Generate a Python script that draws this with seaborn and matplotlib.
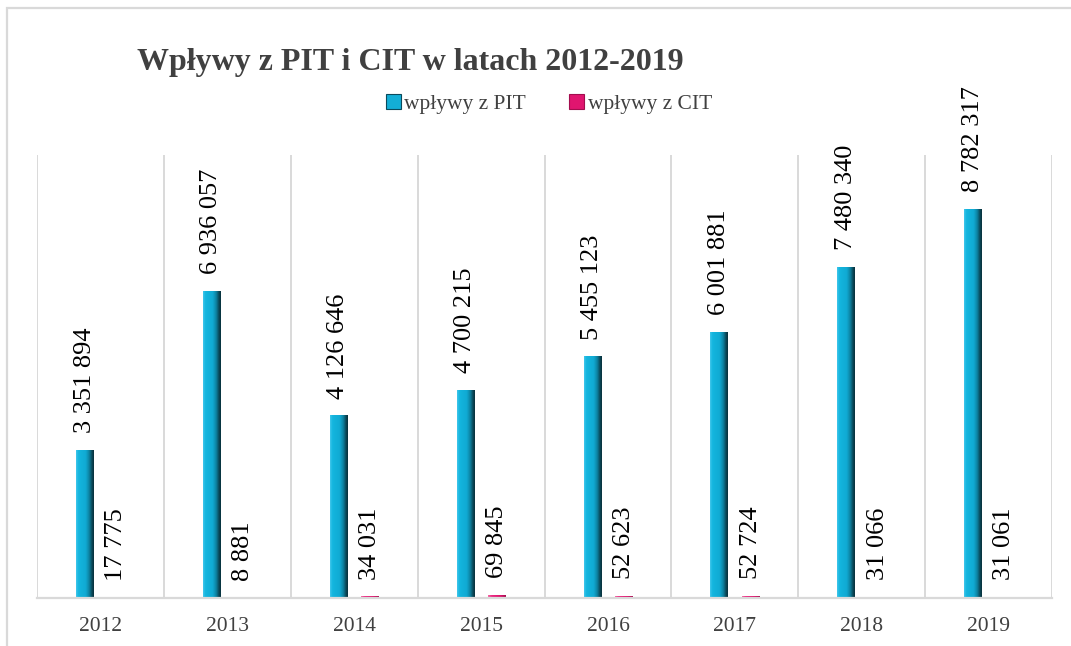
import pandas as pd
import numpy as np
import matplotlib.pyplot as plt
import seaborn as sns
from matplotlib.colors import LinearSegmentedColormap
from matplotlib.patches import Patch, Rectangle

# data
years = ['2012', '2013', '2014', '2015', '2016', '2017', '2018', '2019']
pit = [3351894, 6936057, 4126646, 4700215, 5455123, 6001881, 7480340, 8782317]
cit = [17775, 8881, 34031, 69845, 52623, 52724, 31066, 31061]
series_names = ['wpływy z PIT', 'wpływy z CIT']

df = pd.DataFrame({
    'rok': years * 2,
    'seria': [series_names[0]] * len(years) + [series_names[1]] * len(years),
    'wartosc': pit + cit,
})

sns.set_style('white')
plt.rcParams['font.family'] = ['Liberation Serif', 'DejaVu Serif']

grey_txt = '#404040'
grid_col = '#d9d9d9'
pit_col = '#13aed6'
cit_col = '#e0156f'

fig = plt.figure(figsize=(10.71, 6.46), dpi=100)
ax = fig.add_axes([37 / 1071, 1 - 598 / 646, 1015 / 1071, 443 / 646])

sns.barplot(data=df, x='rok', y='wartosc', hue='seria', order=years,
            hue_order=series_names, palette=[pit_col, cit_col],
            width=0.5, gap=0.46, saturation=1, legend=False, ax=ax,
            edgecolor='none', linewidth=0)

# fake the bevel look with a horizontal gradient clipped to each bar
pit_cmap = LinearSegmentedColormap.from_list(
    'pit', [(0, '#45c8ec'), (0.12, '#14b6df'), (0.55, '#10aad3'),
            (0.75, '#0c7f9e'), (0.9, '#0a4656'), (1, '#082f3a')])
cit_cmap = LinearSegmentedColormap.from_list(
    'cit', [(0, '#f46aa4'), (0.2, '#ec2a83'), (0.7, '#dc146c'), (1, '#a30d4e')])
grad = np.linspace(0, 1, 64).reshape(1, -1)
for cont, cmap in zip(ax.containers, [pit_cmap, cit_cmap]):
    for bar in cont:
        x0, y0, w, h = bar.get_x(), bar.get_y(), bar.get_width(), bar.get_height()
        im = ax.imshow(grad, extent=[x0, x0 + w, y0, y0 + h], aspect='auto',
                       cmap=cmap, zorder=bar.get_zorder() + 0.1, interpolation='bicubic')
        im.set_clip_path(bar)

# value labels, rotated
for cont in ax.containers:
    vals = [b.get_height() for b in cont]
    ax.bar_label(cont, labels=[f'{v:,.0f}'.replace(',', ' ') for v in vals],
                 rotation=90, padding=12, fontsize=19, color='black')

ax.set_xlim(-0.5, len(years) - 0.5)
ax.set_ylim(0, 10_000_000)

# vertical grid between the categories
ax.set_xticks(np.arange(-0.5, len(years)), minor=True)
ax.grid(which='minor', axis='x', color=grid_col, linewidth=1.4)
ax.grid(which='major', visible=False)
ax.tick_params(axis='x', which='both', length=0)
ax.tick_params(axis='x', which='major', pad=14, labelsize=15.5, labelcolor=grey_txt)
ax.set_yticks([])
ax.set_xlabel('')
ax.set_ylabel('')

ax.spines[['top', 'left', 'right']].set_visible(False)
ax.spines['bottom'].set_color(grid_col)
ax.spines['bottom'].set_linewidth(1.6)

# title and legend
fig.text(137 / 1071, 1 - 70 / 646, 'Wpływy z PIT i CIT w latach 2012-2019',
         fontsize=23, fontweight='bold', color=grey_txt, va='baseline', ha='left')

handles = [Patch(facecolor=pit_col, edgecolor='#0b4a5c', linewidth=0.8),
           Patch(facecolor=cit_col, edgecolor='#a30d4e', linewidth=0.8)]
fig.legend(handles, series_names, loc='center', bbox_to_anchor=(549 / 1071, 1 - 104 / 646),
           ncol=2, frameon=False, fontsize=15.5, handlelength=0.7, handleheight=0.7,
           handletextpad=0.15, columnspacing=2.0, labelcolor=grey_txt)

# outer chart border (only left and top are visible in the frame)
fig.add_artist(Rectangle((7 / 1071, -0.1), 1.2, 1.1 - 8 / 646, transform=fig.transFigure,
                         fill=False, edgecolor=grid_col, linewidth=1.6))

fig.savefig('out.png', dpi=100)
